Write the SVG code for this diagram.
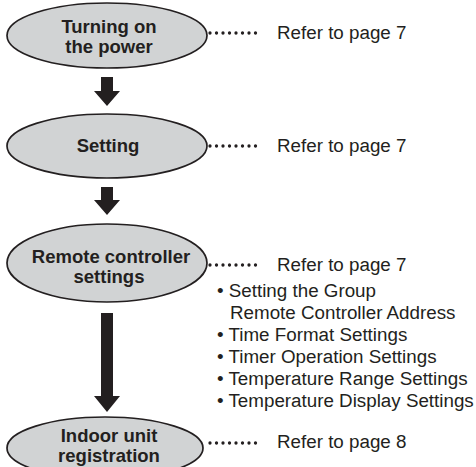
<svg xmlns="http://www.w3.org/2000/svg" width="476" height="467" viewBox="0 0 476 467">
<style>
.node ellipse{fill:#d1d3d4;stroke:#231f20;stroke-width:1.7}
.lbl{font-family:"Liberation Sans",Arial,sans-serif;font-weight:bold;font-size:18.5px;fill:#231f20;text-anchor:middle}
.txt{font-family:"Liberation Sans",Arial,sans-serif;font-size:18.8px;fill:#231f20}
.dots{stroke:#231f20;stroke-width:3.3;stroke-linecap:round;stroke-dasharray:0 6.5;fill:none}
.arr{fill:#231f20}
</style>
<rect width="476" height="467" fill="#ffffff"/>
<g id="connectors">
<path class="arr" d="M101,77 H113 V91 H120 L107,106 L94,91 H101 Z"/>
<path class="arr" d="M101,187 H113 V200 H120 L107,215 L94,200 H101 Z"/>
<path class="arr" d="M101,313 H113 V396 H120 L107,412 L94,396 H101 Z"/>
<line class="dots" x1="210" y1="33" x2="262" y2="33"/>
<line class="dots" x1="210" y1="146" x2="262" y2="146"/>
<line class="dots" x1="210" y1="265" x2="262" y2="265"/>
<line class="dots" x1="210" y1="443" x2="262" y2="443"/>
</g>
<g id="node1" class="node">
<ellipse cx="107" cy="35.5" rx="100" ry="32.5"/>
<text class="lbl" x="109" y="33">Turning on</text>
<text class="lbl" x="109" y="53">the power</text>
</g>
<g id="node2" class="node">
<ellipse cx="107" cy="146" rx="100" ry="32"/>
<text class="lbl" x="108" y="152">Setting</text>
</g>
<g id="node3" class="node">
<ellipse cx="107" cy="263" rx="100" ry="39"/>
<text class="lbl" x="111" y="263">Remote controller</text>
<text class="lbl" x="109" y="283">settings</text>
</g>
<g id="node4" class="node">
<ellipse cx="105" cy="448" rx="98" ry="31"/>
<text class="lbl" x="109" y="442">Indoor unit</text>
<text class="lbl" x="109" y="462">registration</text>
</g>
<g id="notes">
<text class="txt" x="277" y="39">Refer to page 7</text>
<text class="txt" x="277" y="152">Refer to page 7</text>
<text class="txt" x="277" y="271">Refer to page 7</text>
<text class="txt" x="217" y="297">• Setting the Group</text>
<text class="txt" x="230" y="319">Remote Controller Address</text>
<text class="txt" x="217" y="341">• Time Format Settings</text>
<text class="txt" x="217" y="363">• Timer Operation Settings</text>
<text class="txt" x="217" y="385">• Temperature Range Settings</text>
<text class="txt" x="217" y="407">• Temperature Display Settings</text>
<text class="txt" x="277" y="448">Refer to page 8</text>
</g>
</svg>
